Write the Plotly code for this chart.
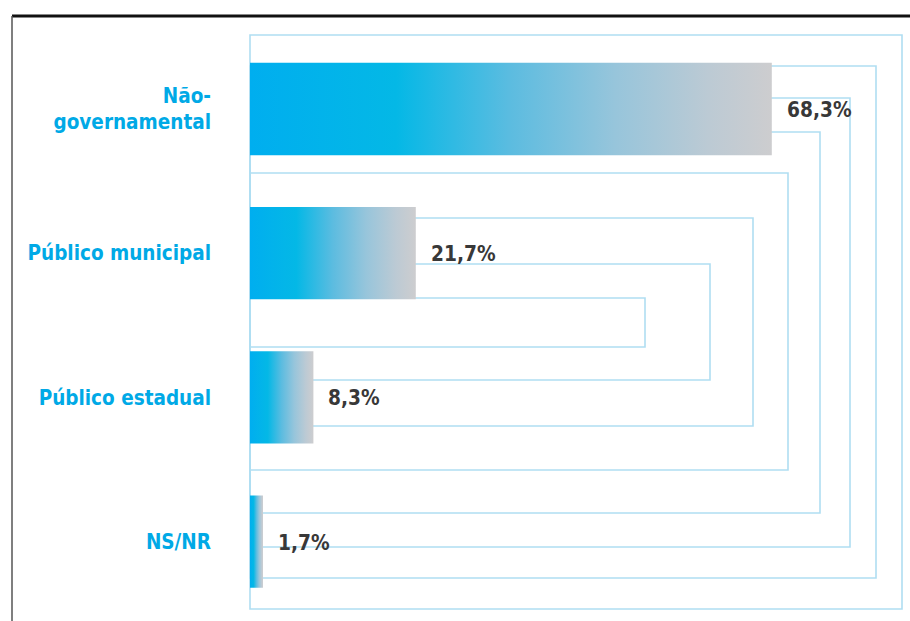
import plotly.graph_objects as go

# Data
categories = ["Não-<br>governamental", "Público municipal", "Público estadual", "NS/NR"]
values = [68.3, 21.7, 8.3, 1.7]
value_labels = ["68,3%", "21,7%", "8,3%", "1,7%"]

W, H = 910, 621
LEFT = 250                      # pixel position of the bars' baseline
X_MAX = (W - LEFT) / 7.64       # axis span so that 1 point ~ 7.64 px
BAR_HALF = 0.32

CYAN = "#00A9E6"
FRAME = "#B0DEF2"
FONT = "DejaVu Sans Condensed, Liberation Sans Narrow, Arial Narrow, sans-serif"

bar_scale = [
    [0.0, "#00AEEF"],
    [0.28, "#04B8E6"],
    [0.5, "#5CBCE0"],
    [0.7, "#97C5DB"],
    [0.88, "#BCCAD4"],
    [1.0, "#CDCDCF"],
]

fig = go.Figure()

# Gradient bars as filled polygons
for i, v in enumerate(values):
    fig.add_trace(go.Scatter(
        x=[0, v, v, 0, 0],
        y=[i - BAR_HALF, i - BAR_HALF, i + BAR_HALF, i + BAR_HALF, i - BAR_HALF],
        mode="lines",
        line=dict(width=0),
        fill="toself",
        fillgradient=dict(type="horizontal", colorscale=bar_scale),
        hoverinfo="skip",
        showlegend=False,
    ))

# Value labels to the right of each bar
for i, (v, lab) in enumerate(zip(values, value_labels)):
    fig.add_annotation(
        x=v, y=i, text=lab, showarrow=False,
        xanchor="left", yanchor="middle", xshift=13, yshift=-1,
        font=dict(family=FONT, size=20.7, color="#383838", weight="bold"),
    )

# Decorative nested frames (pixel extents: top, bottom, right)
frames = [
    (35, 609, 902),
    (66, 578, 876),
    (98, 547, 850),
    (132, 513, 820),
    (173, 470, 788),
    (218, 426, 753),
    (264, 380, 710),
    (298, 347, 645),
]


def px_x(p):
    return (p - LEFT) / (W - LEFT)


def px_y(p):
    return 1 - p / H


for top, bottom, right in frames:
    fig.add_shape(
        type="rect", xref="paper", yref="paper",
        x0=px_x(LEFT), x1=px_x(right), y0=px_y(bottom), y1=px_y(top),
        line=dict(color=FRAME, width=1.6), layer="below",
    )

# Page border: heavy rule on top, thin rule on the left
fig.add_shape(type="line", xref="paper", yref="paper",
              x0=px_x(12), x1=px_x(W), y0=px_y(16), y1=px_y(16),
              line=dict(color="#111111", width=3))
fig.add_shape(type="line", xref="paper", yref="paper",
              x0=px_x(12), x1=px_x(12), y0=px_y(16), y1=px_y(H + 5),
              line=dict(color="#555555", width=1.5))

fig.update_layout(
    width=W, height=H,
    margin=dict(l=LEFT, r=0, t=0, b=0),
    paper_bgcolor="white", plot_bgcolor="white",
    xaxis=dict(range=[0, X_MAX], visible=False, fixedrange=True),
    yaxis=dict(
        range=[3.551, -0.756],
        tickvals=list(range(len(categories))),
        ticktext=categories,
        ticks="", showgrid=False, zeroline=False, showline=False,
        ticklabelstandoff=38,
        tickfont=dict(family=FONT, size=20.5, color=CYAN, weight="bold"),
    ),
)

fig.write_html("out.html")
